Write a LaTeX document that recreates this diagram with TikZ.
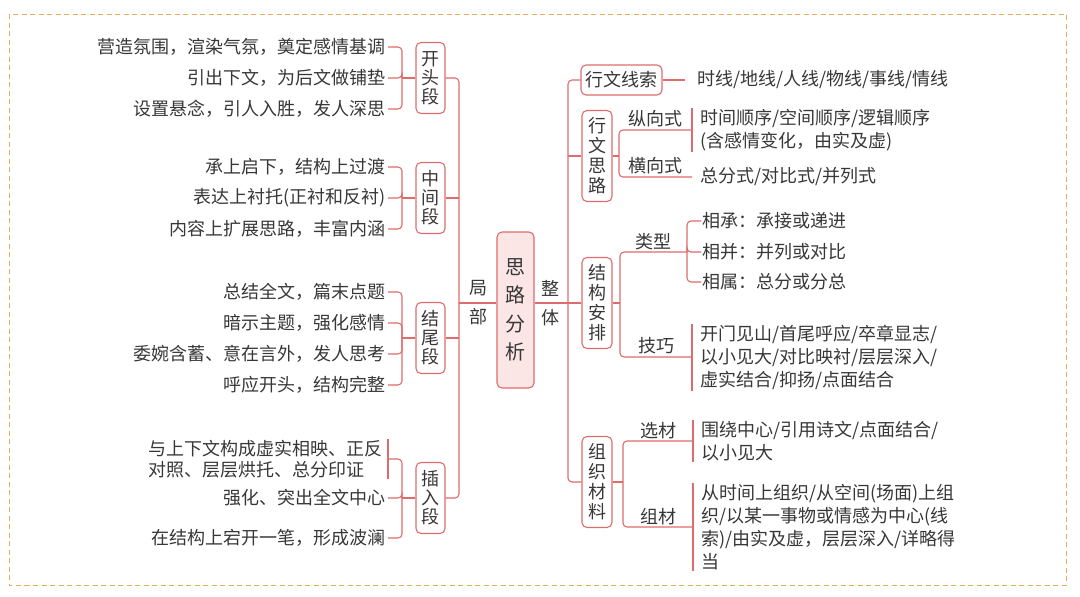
\documentclass[tikz,border=0pt]{standalone}
\usepackage{fontspec}
\setmainfont{Noto Sans CJK SC}
\usetikzlibrary{calc}
\definecolor{linkred}{RGB}{221,108,108}
\definecolor{ctrfill}{RGB}{252,229,229}
\definecolor{txtgray}{RGB}{55,55,55}
\definecolor{frameorange}{RGB}{232,172,95}
\tikzset{
  link/.style    = {draw=linkred,line width=1.1pt,rounded corners=4pt},
  segbox/.style  = {draw=linkred,line width=1.1pt,rounded corners=5pt,fill=white,
                    minimum width=29pt,minimum height=71pt,inner sep=0pt,align=center,
                    font=\fontsize{18}{19}\selectfont,text=txtgray},
  rbox/.style    = {segbox,minimum width=30pt,minimum height=91pt,
                    font=\fontsize{18}{20}\selectfont},
  ctrbox/.style  = {segbox,fill=ctrfill,minimum width=37pt,minimum height=156pt,
                    font=\fontsize{20}{28.5}\selectfont},
  leaf/.style    = {anchor=east,inner xsep=2pt,inner ysep=1pt,align=left,
                    font=\fontsize{18}{21}\selectfont,text=txtgray},
  rleaf/.style   = {anchor=west,inner xsep=8pt,inner ysep=1pt,align=left,
                    font=\fontsize{18}{23}\selectfont,text=txtgray},
  item/.style    = {rleaf,inner xsep=1pt},
  lab/.style     = {inner sep=1pt,above=1pt,font=\fontsize{18}{20}\selectfont,text=txtgray},
  side/.style    = {inner sep=0pt,align=center,font=\fontsize{18}{29}\selectfont,text=txtgray},
}
\begin{document}
\begin{tikzpicture}[x=1pt,y=-1pt]
  \useasboundingbox (0,0) rectangle (1080,597);
  \draw[frameorange,line width=1pt,dash pattern=on 5pt off 3.5pt] (9,14) rectangle (1066,585);

  % centre
  \node[ctrbox] (ctr) at (515.5,310) {思\\路\\分\\析};
  \coordinate (jl) at (459,303);
  \coordinate (jr) at (568,303);
  \draw[link] (jl) -- (jl -| ctr.west);
  \draw[link] (ctr.east |- jr) -- (jr);
  \node[side] (jb) at (478,303) {局\\部};
  \node[side] (zt) at (550,303) {整\\体};

  % left half
  \node[segbox] (kt) at (430.5,78) {开\\头\\段};
  \node[segbox] (zj) at (430.5,198) {中\\间\\段};
  \node[segbox] (jw) at (430.5,338) {结\\尾\\段};
  \node[segbox] (cr) at (430.5,498) {插\\入\\段};

  \foreach \n/\y/\t in {1/47/营造氛围，渲染气氛，奠定感情基调,
                        2/78/引出下文，为后文做铺垫,
                        3/109/设置悬念，引人入胜，发人深思}
    \node[leaf] (kt\n) at (388,\y) {\t};
  \foreach \n/\y/\t in {1/167/承上启下，结构上过渡,
                        2/198/表达上衬托(正衬和反衬),
                        3/229/内容上扩展思路，丰富内涵}
    \node[leaf] (zj\n) at (388,\y) {\t};
  \foreach \n/\y/\t in {1/292/总结全文，篇末点题,
                        2/323/暗示主题，强化感情,
                        3/354/委婉含蓄、意在言外，发人思考,
                        4/385/呼应开头，结构完整}
    \node[leaf] (jw\n) at (388,\y) {\t};
  \node[leaf,inner xsep=5pt] (cr1) at (388,459) {与上下文构成虚实相映、正反\\对照、层层烘托、总分印证};
  \node[leaf] (cr2) at (388,498) {强化、突出全文中心};
  \node[leaf] (cr3) at (388,538) {在结构上宕开一笔，形成波澜};
  \draw[link] (cr1.north east) -- (cr1.south east);

  \coordinate (ktj) at (402,78);
  \coordinate (zjj) at (402,198);
  \coordinate (jwj) at (402,338);
  \coordinate (crj) at (402,498);
  \foreach \n in {1,2,3} \draw[link] (kt\n.east) -| (ktj);
  \foreach \n in {1,2,3} \draw[link] (zj\n.east) -| (zjj);
  \foreach \n in {1,...,4} \draw[link] (jw\n.east) -| (jwj);
  \foreach \n in {1,2,3} \draw[link] (cr\n.east) -| (crj);
  \draw[link] (ktj) -- (kt.west);
  \draw[link] (zjj) -- (zj.west);
  \draw[link] (jwj) -- (jw.west);
  \draw[link] (crj) -- (cr.west);

  \draw[link] (kt.east) -| (jl);
  \draw[link] (cr.east) -| (jl);
  \draw[link] (zj.east) -- (zj.east -| jl);
  \draw[link] (jw.east) -- (jw.east -| jl);

  % right half
  \node[segbox,minimum width=81pt,minimum height=30pt] (xs) at (621.5,80) {行文线索};
  \node[rbox] (xw) at (597,156) {行\\文\\思\\路};
  \node[rbox] (jg) at (597,303) {结\\构\\安\\排};
  \node[rbox] (zz) at (597,482) {组\\织\\材\\料};
  \draw[link] (xs.west) -| (jr);
  \draw[link] (zz.west) -| (jr);
  \draw[link] (xw.west) -- (xw.west -| jr);
  \draw[link] (jg.west) -- (jr);

  \node[rleaf,inner xsep=12pt] (xsl) at (685,80) {时线/地线/人线/物线/事线/情线};
  \draw[link] (xs.east) -- (xsl.west);

  \coordinate (b1) at (619,156);
  \node[rleaf] (zxl) at (692,130) {时间顺序/空间顺序/逻辑顺序\\(含感情变化，由实及虚)};
  \node[rleaf] (hxl) at (692,177) {总分式/对比式/并列式};
  \draw[link] (zxl.north west) -- (zxl.south west);
  \draw[link] (xw.east) -- (b1);
  \draw[link] (zxl.west) -| node[lab,pos=.25] {纵向式} (b1);
  \draw[link] (hxl.west) -| node[lab,pos=.25] {横向式} (b1);

  \coordinate (b3) at (620,303);
  \coordinate (lx) at (687,252);
  \node[item] (lx1) at (701,221) {相承：承接或递进};
  \node[item] (lx2) at (701,252) {相并：并列或对比};
  \node[item] (lx3) at (701,282) {相属：总分或分总};
  \foreach \n in {1,2,3} \draw[link] (lx\n.west) -| (lx);
  \node[rleaf] (jql) at (692,357) {开门见山/首尾呼应/卒章显志/\\以小见大/对比映衬/层层深入/\\虚实结合/抑扬/点面结合};
  \draw[link] (jql.north west) -- (jql.south west);
  \draw[link] (jg.east) -- (b3);
  \draw[link] (lx) -| node[lab,pos=.25] {类型} (b3);
  \draw[link] (jql.west) -| node[lab,pos=.25] {技巧} (b3);

  \coordinate (b4) at (623,482);
  \node[rleaf] (xcl) at (693,441) {围绕中心/引用诗文/点面结合/\\以小见大};
  \node[rleaf] (zcl) at (693,527) {从时间上组织/从空间(场面)上组\\织/以某一事物或情感为中心(线\\索)/由实及虚，层层深入/详略得\\当};
  \draw[link] (xcl.north west) -- (xcl.south west);
  \draw[link] (zcl.north west) -- (zcl.south west);
  \draw[link] (zz.east) -- (b4);
  \draw[link] (xcl.west) -| node[lab,pos=.25] {选材} (b4);
  \draw[link] (zcl.west) -| node[lab,pos=.25] {组材} (b4);
\end{tikzpicture}
\end{document}
